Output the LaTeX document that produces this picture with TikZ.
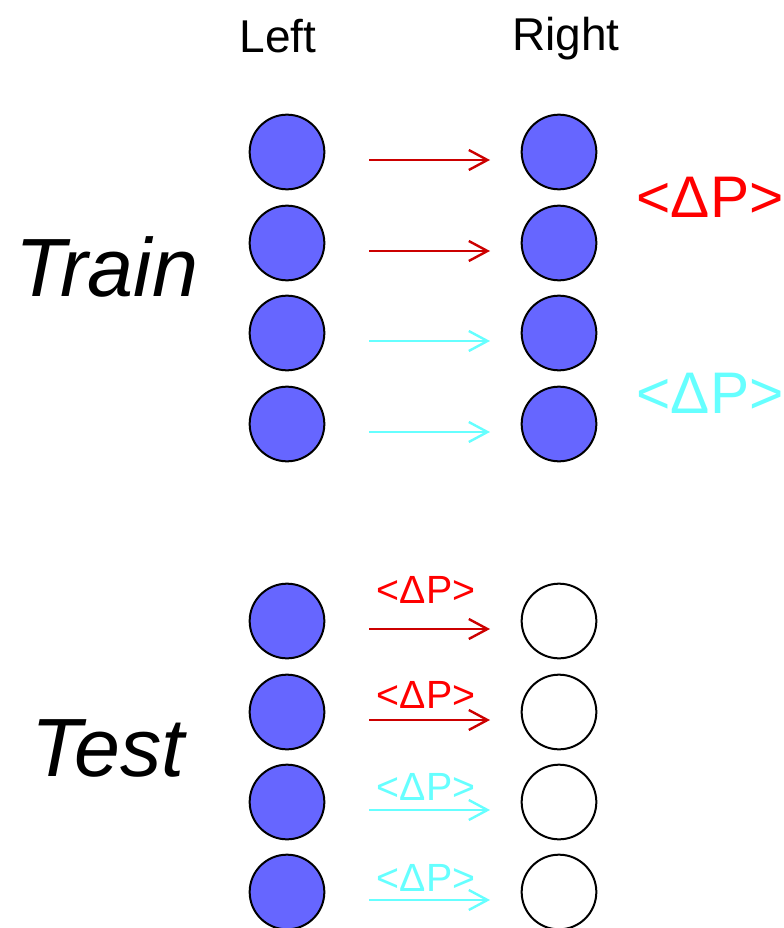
\documentclass[tikz,border=0pt]{standalone}
\usepackage{fontspec}
\setmainfont{Liberation Sans}
\usepackage{tikz}
\usetikzlibrary{arrows.meta}
\definecolor{ballblue}{RGB}{102,102,255}
\definecolor{darkred}{RGB}{204,0,0}
\definecolor{paleCyan}{RGB}{102,255,255}
\tikzset{
  ball/.style={circle,draw,line width=1.5pt,fill=ballblue,minimum size=56pt,inner sep=0pt},
  emptyball/.style={ball,fill=white},
  move/.style={line width=1.8pt,-{Straight Barb[length=14pt,width=15pt]},shorten <=33pt,shorten >=23pt},
  hd/.style={font=\fontsize{34.5}{40}\selectfont,anchor=base},
  bigword/.style={font=\fontsize{62}{72}\selectfont\itshape,anchor=base},
  dp/.style={font=\fontsize{44}{50}\selectfont,anchor=base west},
  smalldp/.style={font=\fontsize{29.5}{34}\selectfont,anchor=base}
}
\begin{document}
\begin{tikzpicture}[x=0.75pt,y=-0.75pt]
\useasboundingbox (0,0) rectangle (784,928);
% headings
\node[hd] (lefthd) at (278,52) {Left};
\node[hd] (righthd) at (566,50) {Right};
\node[bigword] (train) at (107,296) {Train};
\node[bigword] (test) at (108,776) {Test};
% train rows
\foreach \y [count=\i] in {152,243,333,424} {
  \node[ball] (L\i) at (287,\y) {};
  \node[ball] (R\i) at (559,\y) {};
}
% test rows
\foreach \y [count=\i from 5] in {621,712,802,892} {
  \node[ball] (L\i) at (287,\y) {};
  \node[emptyball] (R\i) at (559,\y) {};
}
% arrows
\foreach \i in {1,2,5,6}
  \draw[move,darkred] ([yshift=-6pt]L\i.east) -- ([yshift=-6pt]R\i.west);
\foreach \i in {3,4,7,8}
  \draw[move,paleCyan] ([yshift=-6pt]L\i.east) -- ([yshift=-6pt]R\i.west);
% mean differences
\node[dp,red] (dpred) at (632,217) {<ΔP>};
\node[dp,paleCyan] (dpcyan) at (632,413) {<ΔP>};
\node[smalldp,red] (dp5) at (426,603) {<ΔP>};
\node[smalldp,red] (dp6) at (426,708) {<ΔP>};
\node[smalldp,paleCyan] (dp7) at (426,800) {<ΔP>};
\node[smalldp,paleCyan] (dp8) at (426,891) {<ΔP>};
\end{tikzpicture}
\end{document}
